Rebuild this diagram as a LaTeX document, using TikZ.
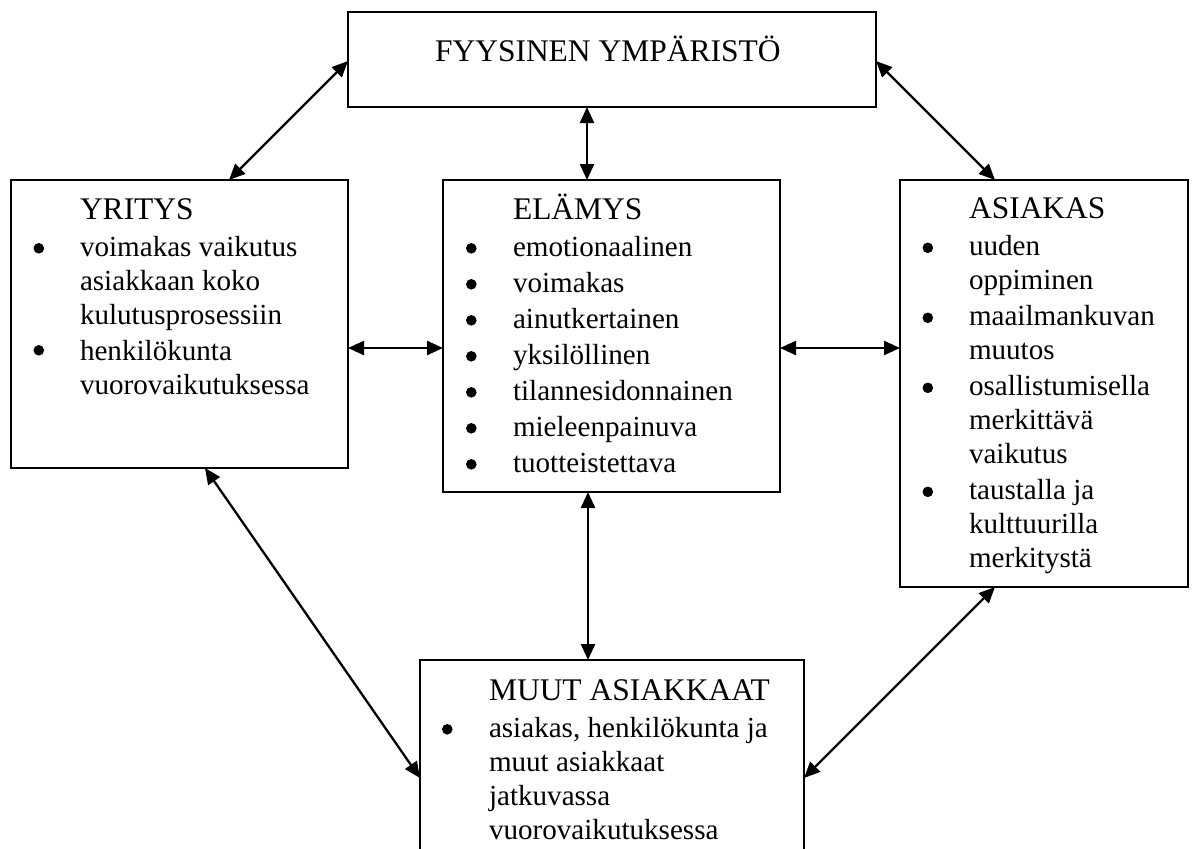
\documentclass[tikz,border=0pt]{standalone}
\usepackage{fontspec}
\setmainfont{Liberation Serif}
\usepackage{array}
\usetikzlibrary{arrows.meta,calc}
\newcommand\ttl[1]{{\fontsize{31.5}{34}\selectfont #1}}
\begin{document}
\begin{tikzpicture}[x=1pt,y=-1pt,
  box/.style={draw,line width=2.1pt,inner sep=0,outer sep=0,anchor=north west},
  arr/.style={line width=2.3pt,{Triangle[length=16pt,width=14pt]}-{Triangle[length=16pt,width=14pt]}},
  txt/.style={anchor=base west,inner sep=0,outer sep=0,font=\fontsize{29.1}{34}\selectfont},
  dot/.style={fill=black,draw=none}]
\useasboundingbox (0,0) rectangle (1195,849);

% boxes
\node[box,minimum width=528pt,minimum height=95pt] (fy) at (348,12) {};
\node[box,minimum width=337pt,minimum height=288pt] (yr) at (11,180) {};
\node[box,minimum width=337pt,minimum height=312pt] (el) at (443,180) {};
\node[box,minimum width=288pt,minimum height=407pt] (as) at (900,180) {};
\node[box,minimum width=384pt,minimum height=230pt] (mu) at (420,660) {};

% texts
\node[txt] (fyt) at ($(fy.north west)+(87,49)$) {\ttl{FYYSINEN YMPÄRISTÖ}};

\node[txt] (yrt) at ($(yr.north west)+(69,39)$) {\begin{tabular}[t]{@{}l@{}}
\ttl{YRITYS}\\[3pt]
voimakas vaikutus\\
asiakkaan koko\\
kulutusprosessiin\\[2pt]
henkilökunta\\
vuorovaikutuksessa
\end{tabular}};

\node[txt] (elt) at ($(el.north west)+(70,39)$) {\begin{tabular}[t]{@{}l@{}}
\ttl{ELÄMYS}\\[3pt]
emotionaalinen\\[2pt]
voimakas\\[2pt]
ainutkertainen\\[2pt]
yksilöllinen\\[2pt]
tilannesidonnainen\\[2pt]
mieleenpainuva\\[2pt]
tuotteistettava
\end{tabular}};

\node[txt] (ast) at ($(as.north west)+(69,38.5)$) {\begin{tabular}[t]{@{}l@{}}
\ttl{ASIAKAS}\\[3pt]
uuden\\
oppiminen\\[2pt]
maailmankuvan\\
muutos\\[2pt]
osallistumisella\\
merkittävä\\
vaikutus\\[2pt]
taustalla ja\\
kulttuurilla\\
merkitystä
\end{tabular}};

\node[txt] (mut) at ($(mu.north west)+(69,40)$) {\begin{tabular}[t]{@{}l@{}}
\ttl{MUUT ASIAKKAAT}\\[3pt]
asiakas, henkilökunta ja\\
muut asiakkaat\\
jatkuvassa\\
vuorovaikutuksessa
\end{tabular}};

% bullets (centre 27.8 from the box's left side, 7.7 above the baseline)
\foreach \b in {68.3,170.3}
  \fill[dot] ($(yr.north west)+(27.8,\b)$) circle[radius=5.3pt];
\foreach \b in {68.3,104.3,140.3,176.3,212.3,248.3,284.3}
  \fill[dot] ($(el.north west)+(28.3,\b)$) circle[radius=5.3pt];
\foreach \b in {67.8,137.8,207.8,311.8}
  \fill[dot] ($(as.north west)+(27.8,\b)$) circle[radius=5.3pt];
\fill[dot] ($(mu.north west)+(27.3,69.3)$) circle[radius=5.3pt];

% connectors
\draw[arr] ($(yr.north west)+(218,0)$) -- ($(fy.north west)+(0,49)$);
\draw[arr] ($(fy.north east)+(0,49)$) -- ($(as.north west)+(95,0)$);
\draw[arr] ($(fy.south west)+(239,0)$) -- ($(el.north west)+(144,0)$);
\draw[arr] ($(yr.north east)+(0,168)$) -- ($(el.north west)+(0,168)$);
\draw[arr] ($(el.north east)+(0,168)$) -- ($(as.north west)+(0,168)$);
\draw[arr] ($(el.south west)+(145,0)$) -- ($(mu.north west)+(168,0)$);
\draw[arr] ($(yr.south west)+(194,0)$) -- ($(mu.north west)+(0,118)$);
\draw[arr] ($(as.south west)+(95,0)$) -- ($(mu.north east)+(0,118)$);
\end{tikzpicture}
\end{document}
